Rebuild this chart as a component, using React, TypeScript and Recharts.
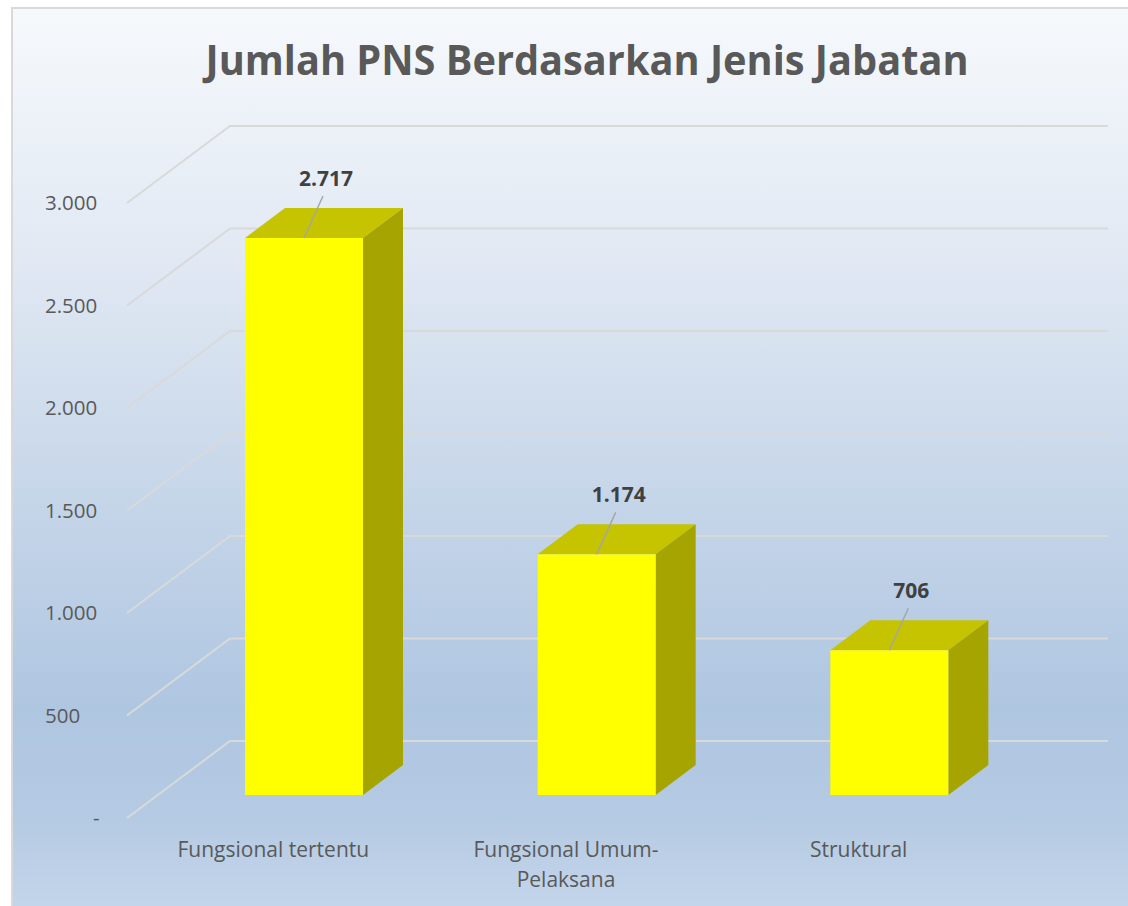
import React from 'react';
import { BarChart, Bar, XAxis, YAxis, CartesianGrid, LabelList } from 'recharts';

const categories = ['Fungsional tertentu', 'Fungsional Umum-Pelaksana', 'Struktural'];
const jumlahPns = [2717, 1174, 706];
const yTicks = [0, 500, 1000, 1500, 2000, 2500, 3000];
const chartTitle = 'Jumlah PNS Berdasarkan Jenis Jabatan';

const data = categories.map((jabatan, i) => ({ jabatan, jumlah: jumlahPns[i] }));

// 3D look: floor depth of the plot and the bar block
const WALL_DX = 103;
const WALL_DY = -77;
const BAR_SX = 31;
const BAR_SY = -23;
const BAR_DX = 40;
const BAR_DY = -30;

const textColor = '#595959';
const font = '"Open Sans", "Noto Sans", sans-serif';

const fmt = (v: number) => String(v).replace(/\B(?=(\d{3})+(?!\d))/g, '.');

const Bar3D = (props: any) => {
  const { x, y, width, height } = props;
  const fx = x + BAR_SX;
  const fy = y + BAR_SY;
  const bottom = fy + height;
  return (
    <g>
      <polygon
        points={`${fx},${fy} ${fx + BAR_DX},${fy + BAR_DY} ${fx + width + BAR_DX},${fy + BAR_DY} ${fx + width},${fy}`}
        fill="#c6c300"
      />
      <polygon
        points={`${fx + width},${fy} ${fx + width + BAR_DX},${fy + BAR_DY} ${fx + width + BAR_DX},${bottom + BAR_DY} ${fx + width},${bottom}`}
        fill="#a6a400"
      />
      <rect x={fx} y={fy} width={width} height={height} fill="#ffff00" />
    </g>
  );
};

const ValueLabel = (props: any) => {
  const { x, y, width, value } = props;
  const cx = x + width / 2 + BAR_SX;
  const top = y + BAR_SY;
  return (
    <g>
      <line x1={cx} y1={top} x2={cx + 19} y2={top - 42} stroke="#a6a6a6" strokeWidth={1.5} />
      <text x={cx + 22} y={top - 52} textAnchor="middle" fontFamily={font} fontWeight={700} fontSize={21} fill="#404040">
        {fmt(value)}
      </text>
    </g>
  );
};

const YTick = (props: any) => {
  const { y, payload } = props;
  const v = payload.value;
  return (
    <text x={v === 0 ? 93 : 45} y={y} dy={7} textAnchor="start" fontFamily={font} fontSize={20.5} fill={textColor}>
      {v === 0 ? '-' : fmt(v)}
    </text>
  );
};

const XTick = (props: any) => {
  const { x, y, payload } = props;
  const label: string = payload.value;
  const idx = label.indexOf('-');
  const lines = idx >= 0 ? [label.slice(0, idx + 1), label.slice(idx + 1)] : [label];
  return (
    <text x={x} y={y} textAnchor="middle" fontFamily={font} fontSize={21} fill={textColor}>
      {lines.map((l, i) => (
        <tspan key={i} x={x} dy={i === 0 ? 39 : 30}>{l}</tspan>
      ))}
    </text>
  );
};

const gridLine = (p: any) => {
  const { x1, y1 } = p;
  return (
    <path
      key={`grid-${p.index}-${y1}`}
      d={`M${x1},${y1} L${x1 + WALL_DX},${y1 + WALL_DY} L1108,${y1 + WALL_DY}`}
      stroke="#d9d9d9"
      strokeWidth={2}
      fill="none"
    />
  );
};

export default function App() {
  return (
    <div style={{ position: 'absolute', left: 0, top: 0, width: 1128, height: 906, background: '#fff', overflow: 'hidden' }}>
      <div
        style={{
          position: 'absolute',
          left: 11,
          top: 7,
          width: 1140,
          height: 920,
          borderLeft: '2px solid #d9d9d9',
          borderTop: '2px solid #d9d9d9',
          background: 'linear-gradient(180deg, #f6f9fc 0%, #e3eaf4 25%, #c9d8ea 50%, #afc6e1 76%, #b5cae3 88%, #c7d8ec 100%)',
        }}
      />
      <svg width={1128} height={120} style={{ position: 'absolute', left: 0, top: 0 }}>
        <text
          x={587}
          y={75}
          textAnchor="middle"
          fontFamily={font}
          fontWeight={700}
          fontSize={42}
          fill={textColor}
          textLength={763}
          lengthAdjust="spacingAndGlyphs"
        >
          {chartTitle}
        </text>
      </svg>
      <div style={{ position: 'absolute', left: 0, top: 0 }}>
        <BarChart width={1128} height={906} data={data} margin={{ top: 203, right: 123, bottom: 0, left: 47 }}>
          <CartesianGrid vertical={false} horizontal={gridLine} />
          <XAxis
            dataKey="jabatan"
            axisLine={false}
            tickLine={false}
            tickSize={0}
            tickMargin={0}
            height={88}
            interval={0}
            tick={<XTick />}
          />
          <YAxis
            width={80}
            domain={[0, 3000]}
            ticks={yTicks}
            axisLine={false}
            tickLine={false}
            tick={<YTick />}
          />
          <Bar dataKey="jumlah" barSize={118} shape={<Bar3D />} isAnimationActive={false}>
            <LabelList dataKey="jumlah" content={<ValueLabel />} />
          </Bar>
        </BarChart>
      </div>
    </div>
  );
}
